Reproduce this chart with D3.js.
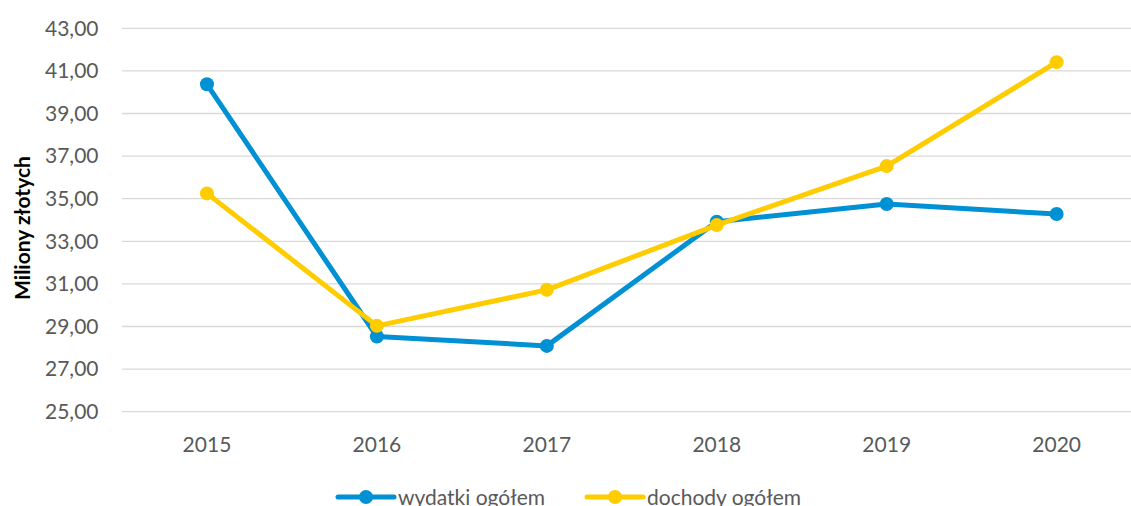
<!DOCTYPE html>
<html lang="pl">
<head>
    <meta charset="UTF-8">
    <title>Wydatki i dochody</title>
    <style type="text/css">
        body{margin:0;background:#fff;}
        svg{display:block;font-family:Lato,"Open Sans",sans-serif;}
    </style>
    <script src="https://cdn.jsdelivr.net/npm/d3@7"></script>
</head>
<body>
<div id="chart"></div>
<script>
    var years = ["2015", "2016", "2017", "2018", "2019", "2020"];
    var wydatki = [40.37, 28.53, 28.09, 33.92, 34.75, 34.28];
    var dochody = [35.25, 29.03, 30.72, 33.76, 36.53, 41.41];
    var yTicks = [25, 27, 29, 31, 33, 35, 37, 39, 41, 43];
    var seriesNames = ["wydatki ogółem", "dochody ogółem"];
    var seriesColors = ["#0091d4", "#ffcc00"];

    var w = 1131, h = 506;
    var svg = d3.select("#chart").append("svg")
        .attr("width", w)
        .attr("height", h);

    var x = d3.scaleBand().domain(years).range([122, 1141.6]);
    var y = d3.scaleLinear().domain([25, 43]).range([411.7, 28.3]);
    var fmt = function(v){ return d3.format(".2f")(v).replace(".", ","); };

    // siatka
    svg.append("g").selectAll("line")
        .data(yTicks)
        .enter().append("line")
        .attr("x1", 122).attr("x2", w)
        .attr("y1", function(d){ return y(d); })
        .attr("y2", function(d){ return y(d); })
        .attr("stroke", "#d9d9d9")
        .attr("stroke-width", 1.3);

    // os Y
    var yAxis = svg.append("g")
        .attr("transform", "translate(98.5,0)")
        .call(d3.axisLeft(y).tickValues(yTicks).tickFormat(fmt).tickSize(0).tickPadding(0));
    yAxis.select(".domain").remove();
    yAxis.selectAll("text")
        .attr("fill", "#595959")
        .style("font-size", "21px")
        .style("font-family", "Lato, sans-serif");

    // os X
    var xAxis = svg.append("g")
        .attr("transform", "translate(0,411.7)")
        .call(d3.axisBottom(x).tickSize(0).tickPadding(25));
    xAxis.select(".domain").remove();
    xAxis.selectAll("text")
        .attr("fill", "#595959")
        .style("font-size", "21px")
        .style("font-family", "Lato, sans-serif");

    svg.append("text")
        .attr("transform", "translate(30,228) rotate(-90)")
        .attr("text-anchor", "middle")
        .style("font-size", "21px")
        .style("font-weight", "bold")
        .attr("fill", "#000")
        .text("Miliony złotych");

    var line = d3.line()
        .x(function(d, i){ return x(years[i]) + x.bandwidth()/2; })
        .y(function(d){ return y(d); });

    [wydatki, dochody].forEach(function(vals, s){
        var g = svg.append("g");
        g.append("path")
            .attr("d", line(vals))
            .attr("fill", "none")
            .attr("stroke", seriesColors[s])
            .attr("stroke-width", 5)
            .attr("stroke-linejoin", "round");
        g.selectAll("circle")
            .data(vals)
            .enter().append("circle")
            .attr("cx", function(d, i){ return x(years[i]) + x.bandwidth()/2; })
            .attr("cy", function(d){ return y(d); })
            .attr("r", 7)
            .attr("fill", seriesColors[s]);
    });

    // legenda
    var legX = [338, 587];
    var legend = svg.append("g").selectAll("g")
        .data(seriesNames)
        .enter().append("g")
        .attr("transform", function(d, i){ return "translate(" + legX[i] + ",497)"; });
    legend.append("line")
        .attr("x1", 0).attr("x2", 56)
        .attr("stroke", function(d, i){ return seriesColors[i]; })
        .attr("stroke-width", 5)
        .attr("stroke-linecap", "round");
    legend.append("circle")
        .attr("cx", 28).attr("r", 7)
        .attr("fill", function(d, i){ return seriesColors[i]; });
    legend.append("text")
        .attr("x", 60)
        .attr("dy", "0.4em")
        .attr("fill", "#595959")
        .style("font-size", "21px")
        .text(function(d){ return d; });
</script>
</body>
</html>
